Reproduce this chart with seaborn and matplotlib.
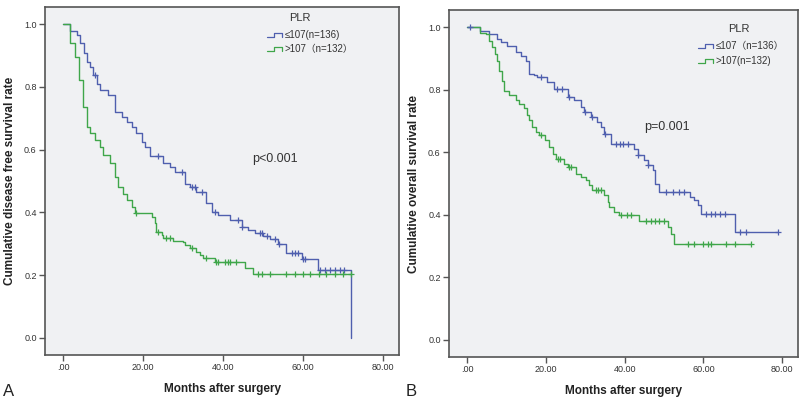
import numpy as np
import pandas as pd
import matplotlib
matplotlib.use('Agg')
import matplotlib.pyplot as plt
import seaborn as sns

sns.set_style('white')
plt.rcParams['font.family'] = ['Liberation Sans', 'Noto Sans CJK SC', 'DejaVu Sans']

BLUE = '#4f5fae'
GREEN = '#3fa64a'

# panel A: disease free survival
a_low_t = [0, 1.7, 3.3, 4.2, 5.2, 6.0, 6.7, 7.5, 8.5, 9.2, 11.2, 13.0, 14.6, 15.8, 17.1, 18.3, 19.6,
           20.4, 21.7, 25.0, 26.7, 27.9, 30.4, 31.7, 33.3, 35.6, 37.1, 38.8, 41.7, 44.6, 46.2, 47.9,
           50.0, 51.7, 53.7, 55.8, 59.6, 63.7, 72.0]
a_low_s = [1.0, 0.977, 0.966, 0.94, 0.908, 0.88, 0.865, 0.838, 0.81, 0.79, 0.774, 0.72, 0.705, 0.687,
           0.673, 0.652, 0.625, 0.61, 0.58, 0.556, 0.545, 0.53, 0.49, 0.48, 0.466, 0.43, 0.402, 0.39,
           0.375, 0.354, 0.344, 0.333, 0.325, 0.314, 0.30, 0.27, 0.251, 0.216, 0.0]
a_low_cens = [7.9, 23.7, 29.6, 32.1, 32.9, 34.6, 37.9, 43.7, 44.8, 49.3, 49.8, 50.9, 52.9, 53.9,
              57.1, 57.9, 58.8, 59.9, 60.5, 64.2, 65.4, 66.7, 67.9, 69.2, 70.2]
a_low_end = 72.0

a_high_t = [0, 1.7, 2.9, 3.9, 4.8, 5.8, 6.7, 7.9, 9.2, 10.0, 11.7, 12.9, 13.7, 15.0, 15.8, 17.1, 17.9,
            22.1, 22.9, 23.3, 24.6, 25.0, 27.5, 30.0, 30.4, 31.7, 33.3, 34.2, 35.0, 37.9, 45.4, 47.5]
a_high_s = [1.0, 0.94, 0.897, 0.822, 0.737, 0.673, 0.652, 0.631, 0.61, 0.583, 0.556, 0.514, 0.482,
            0.46, 0.44, 0.418, 0.399, 0.386, 0.365, 0.338, 0.328, 0.317, 0.31, 0.304, 0.296, 0.285,
            0.275, 0.264, 0.253, 0.243, 0.221, 0.203]
a_high_cens = [18.2, 23.8, 25.8, 26.7, 32.3, 35.8, 38.3, 38.8, 40.4, 41.2, 41.6, 43.3, 48.75, 49.6,
               51.7, 55.8, 57.9, 60.0, 61.7, 64.0, 65.8, 67.9, 70.0, 72.0]
a_high_end = 72.0

# panel B: overall survival
b_low_t = [0, 3.4, 5.5, 7.6, 8.5, 10.2, 12.3, 13.6, 14.9, 15.7, 17.0, 17.8, 20.4, 22.0, 25.5, 27.2,
           28.9, 29.7, 31.4, 33.1, 34.0, 34.8, 36.5, 42.4, 43.3, 45.0, 45.8, 47.1, 47.6, 48.8, 56.5,
           57.7, 58.6, 59.4, 67.9]
b_low_s = [1.0, 0.989, 0.978, 0.962, 0.952, 0.941, 0.92, 0.909, 0.893, 0.851, 0.846, 0.84, 0.824,
           0.803, 0.776, 0.766, 0.744, 0.728, 0.712, 0.696, 0.68, 0.659, 0.627, 0.61, 0.59, 0.574,
           0.558, 0.542, 0.50, 0.473, 0.457, 0.447, 0.431, 0.404, 0.345]
b_low_cens = [0.8, 18.8, 22.9, 24.2, 25.8, 29.9, 31.8, 34.9, 37.9, 38.7, 39.6, 40.8, 43.5, 45.9,
              50.6, 52.2, 53.7, 55.1, 60.6, 61.8, 63.0, 64.2, 65.5, 69.4, 70.8, 78.8]
b_low_end = 78.8

b_high_t = [0, 3.4, 4.7, 5.5, 6.4, 7.2, 7.6, 8.1, 8.9, 9.3, 10.6, 12.3, 13.1, 14.4, 15.3, 15.7, 16.6,
            17.4, 18.2, 19.9, 20.8, 21.7, 22.5, 24.6, 25.5, 27.6, 28.9, 30.1, 31.0, 31.8, 34.8, 35.7,
            36.1, 37.4, 38.6, 43.7, 51.0, 51.8, 52.6]
b_high_s = [1.0, 0.983, 0.978, 0.957, 0.936, 0.915, 0.893, 0.861, 0.829, 0.797, 0.782, 0.766, 0.755,
            0.74, 0.718, 0.702, 0.68, 0.665, 0.654, 0.638, 0.617, 0.595, 0.58, 0.564, 0.553, 0.532,
            0.521, 0.51, 0.494, 0.478, 0.462, 0.441, 0.425, 0.409, 0.399, 0.38, 0.361, 0.34, 0.308]
b_high_cens = [18.8, 23.0, 23.6, 25.8, 26.5, 32.6, 33.3, 33.9, 39.0, 40.7, 41.6, 45.3, 46.6, 47.8,
               48.7, 49.9, 56.0, 57.7, 59.9, 61.1, 62.0, 65.8, 67.9, 72.0]
b_high_end = 72.0

x_ticks = [0, 20, 40, 60, 80]
x_ticklabels = ['.00', '20.00', '40.00', '60.00', '80.00']
y_ticks = [0.0, 0.2, 0.4, 0.6, 0.8, 1.0]
y_ticklabels = ['0.0', '0.2', '0.4', '0.6', '0.8', '1.0']


def curve_frame(times, surv, end):
    t = list(times)
    s = list(surv)
    if end > t[-1]:
        t.append(end)
        s.append(s[-1])
    return pd.DataFrame({'t': t, 's': s})


def censor_frame(times, surv, cens):
    idx = np.searchsorted(times, cens, side='right') - 1
    return pd.DataFrame({'t': cens, 's': np.asarray(surv)[idx]})


def draw_group(ax, times, surv, cens, end, color):
    sns.lineplot(data=curve_frame(times, surv, end), x='t', y='s', ax=ax, color=color,
                 drawstyle='steps-post', estimator=None, sort=False, linewidth=1.0)
    sns.scatterplot(data=censor_frame(times, surv, cens), x='t', y='s', ax=ax, color=color,
                    marker='+', s=22, linewidth=0.9, zorder=3)


def style_axes(ax, ylabel):
    ax.set_facecolor('#f0f1f3')
    ax.set_xlim(-4.6, 84.0)
    ax.set_ylim(-0.055, 1.055)
    ax.set_xticks(x_ticks)
    ax.set_xticklabels(x_ticklabels)
    ax.set_yticks(y_ticks)
    ax.set_yticklabels(y_ticklabels)
    ax.tick_params(axis='both', which='major', bottom=True, left=True, direction='out',
                   length=4, width=1, colors='#555555', labelsize=6.5, labelcolor='#333333', pad=2)
    for sp in ax.spines.values():
        sp.set_color('#555555')
        sp.set_linewidth(1.2)
    ax.set_xlabel('Months after surgery', fontsize=8.5, fontweight='bold', labelpad=8,
                  color='#222222')
    ax.set_ylabel(ylabel, fontsize=8.5, fontweight='bold', labelpad=6, color='#222222')


def draw_legend(ax, x0, ys, title_xy, labels):
    ax.text(title_xy[0], title_xy[1], 'PLR', transform=ax.transAxes, fontsize=8,
            ha='center', va='center', color='#333333')
    for y, lab, col in zip(ys, labels, [BLUE, GREEN]):
        ax.plot([x0, x0 + 0.02, x0 + 0.02, x0 + 0.043, x0 + 0.043],
                [y - 0.006, y - 0.006, y + 0.006, y + 0.006, y - 0.006],
                transform=ax.transAxes, color=col, linewidth=0.9)
        ax.text(x0 + 0.05, y, lab, transform=ax.transAxes, fontsize=7, va='center',
                color='#333333')


fig = plt.figure(figsize=(8, 4.01), dpi=100)
ax_a = fig.add_axes([0.05625, 0.1147, 0.4425, 0.8678])
ax_b = fig.add_axes([0.5612, 0.1097, 0.4363, 0.8653])

draw_group(ax_a, a_low_t, a_low_s, a_low_cens, a_low_end, BLUE)
draw_group(ax_a, a_high_t, a_high_s, a_high_cens, a_high_end, GREEN)
style_axes(ax_a, 'Cumulative disease free survival rate')
ax_a.text(0.585, 0.555, 'p<0.001', transform=ax_a.transAxes, fontsize=9, color='#333333')
draw_legend(ax_a, 0.626, [0.92, 0.88], (0.72, 0.968),
            ['≤107(n=136)', '>107（n=132）'])

draw_group(ax_b, b_low_t, b_low_s, b_low_cens, b_low_end, BLUE)
draw_group(ax_b, b_high_t, b_high_s, b_high_cens, b_high_end, GREEN)
style_axes(ax_b, 'Cumulative overall survival rate')
ax_b.text(0.56, 0.655, 'p=0.001', transform=ax_b.transAxes, fontsize=9, color='#333333')
draw_legend(ax_b, 0.713, [0.896, 0.853], (0.831, 0.945),
            ['≤107（n=136）', '>107(n=132)'])

fig.text(0.004, 0.012, 'A', fontsize=12, color='#222222')
fig.text(0.507, 0.012, 'B', fontsize=12, color='#222222')

fig.savefig('out.png', dpi=100)
